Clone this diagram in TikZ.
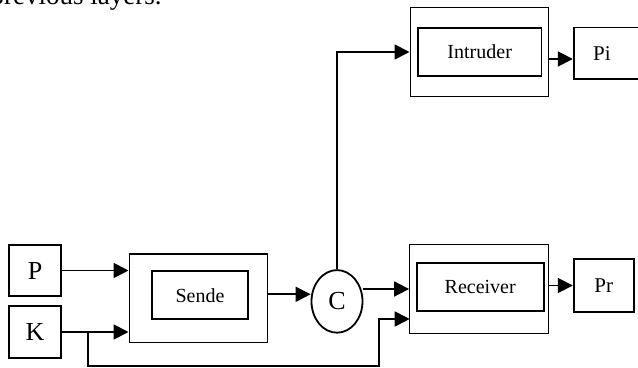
\documentclass[tikz,border=0pt]{standalone}
\usepackage{fontspec}
\setmainfont{Liberation Serif}
\usetikzlibrary{arrows.meta,calc,shapes.geometric}

\tikzset{
  outerbox/.style={draw, line width=0.6pt, inner sep=0pt},
  innerbox/.style={draw, line width=0.9pt, inner sep=0pt, font=\fontsize{10}{12}\selectfont},
  letterbox/.style={draw, line width=0.9pt, inner sep=0pt, minimum width=26pt, minimum height=25.5pt, font=\fontsize{13}{15}\selectfont},
  flow/.style={line width=0.9pt, -{Triangle[length=7.5pt,width=7.5pt]}},
  wire/.style={line width=0.9pt}
}

\begin{document}
\begin{tikzpicture}[x=0.5pt, y=-0.5pt]
  \useasboundingbox (0,0) rectangle (638,368);
  \clip (0,0) rectangle (638,368);
  % text above
  \node[anchor=base east, inner sep=0pt, font=\fontsize{13.5}{16}\selectfont] (prev) at (162,4.5) {previous layers.};
  % node
  \node[letterbox] (P) at (35,270.5) {P};
  \node[letterbox, minimum height=26pt] (K) at (35,332) {K};
  \node[outerbox, minimum width=69.3pt, minimum height=44.3pt] (sendout) at (198.4,298.3) {};
  \node[innerbox, minimum width=48.3pt, minimum height=24.2pt] (sendin) at (200,295.2) {Sende};
  \node[ellipse, draw, line width=0.9pt, inner sep=0pt, minimum width=25.5pt, minimum height=31.3pt, font=\fontsize{13}{15}\selectfont] (C) at (337,301.4) {C};
  \node[outerbox, minimum width=69.5pt, minimum height=44.3pt] (recout) at (479.2,289) {};
  \node[innerbox, minimum width=63.5pt, minimum height=24.2pt] (recin) at (480.2,287.2) {Receiver};
  \node[innerbox, minimum width=30pt, minimum height=26.2pt, font=\fontsize{10.5}{12}\selectfont] (Pr) at (603.7,285.5) {Pr};
  \node[outerbox, minimum width=69.3pt, minimum height=44.7pt] (intout) at (479.4,52) {};
  \node[innerbox, minimum width=61.7pt, minimum height=24pt] (intin) at (479.7,51.7) {Intruder};
  \node[innerbox, minimum width=40pt, minimum height=25.7pt, font=\fontsize{10.5}{12}\selectfont] (Pi) at (613.7,53.3) {Pi\hspace*{11.7pt}};
  % points
  \coordinate (split) at ($(K.east)+(26,0)$);
  \coordinate (bend) at (379,365.7);
  \coordinate (rin) at (409.7,319);
  \coordinate (sc) at ($(sendout.east)+(0,-4)$);
  \coordinate (ipi) at ($(intout.east)+(0,7)$);
  % lines
  \draw[flow] (P.east) -- (P.east -| sendout.west);
  \draw[flow] (K.east) -- (K.east -| sendout.west);
  \draw[flow] (split) |- (bend) |- (rin);
  \draw[flow] (sc) -- (sc -| C.west);
  \draw[flow] (recout.west -| C.east) -- (recout.west);
  \draw[flow] (C.north) |- (intout.west);
  \draw[flow] (recout.east |- Pr.west) -- (Pr.west);
  \draw[flow] (ipi) -- (ipi -| Pi.west);
\end{tikzpicture}
\end{document}
